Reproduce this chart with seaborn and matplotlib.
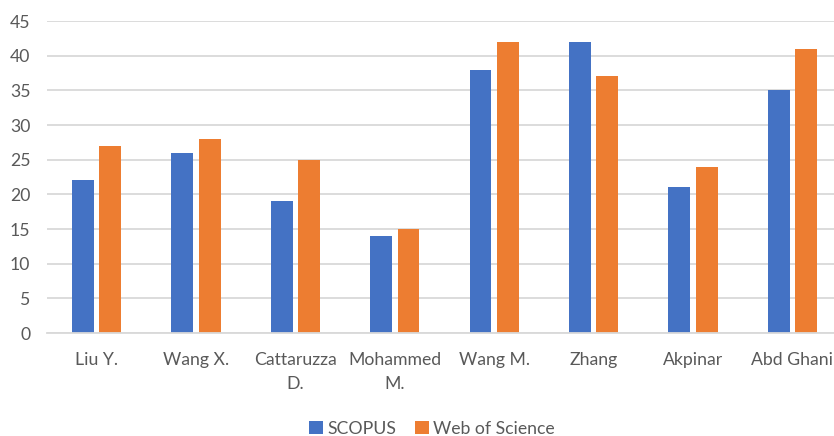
import numpy as np
import pandas as pd
import matplotlib.pyplot as plt
import seaborn as sns

# Data
authors = ["Liu Y.", "Wang X.", "Cattaruzza\nD.", "Mohammed\nM.",
           "Wang M.", "Zhang", "Akpinar", "Abd Ghani"]
scopus = [22, 26, 19, 14, 38, 42, 21, 35]
wos = [27, 28, 25, 15, 42, 37, 24, 41]
sources = ["SCOPUS", "Web of Science"]
yticks = list(range(0, 50, 5))

# Set-up
sns.set_theme(style="white")
plt.rcParams["font.family"] = ["Lato", "DejaVu Sans"]
TEXT = "#595959"
GRID = "#D9D9D9"

df = pd.DataFrame({
    "author": authors * 2,
    "count": scopus + wos,
    "source": [sources[0]] * len(authors) + [sources[1]] * len(authors),
})

fig = plt.figure(figsize=(8.34, 4.36), dpi=100)
ax = fig.add_axes([47 / 834, 103 / 436, 795 / 834, 312 / 436])

sns.barplot(df, x="author", y="count", hue="source",
            palette=["#4472C4", "#ED7D31"], saturation=1,
            width=0.55, gap=0.2, linewidth=0, ax=ax, legend=True)

ax.set_ylim(0, 45)
ax.set_xlim(-0.5, 7.5)
ax.set_yticks(yticks)
ax.yaxis.grid(True, color=GRID, linewidth=1.3)
ax.set_axisbelow(True)
for side in ["top", "right", "left"]:
    ax.spines[side].set_visible(False)
ax.spines["bottom"].set_color(GRID)
ax.spines["bottom"].set_linewidth(1.3)
ax.set(xlabel="", ylabel="")
ax.tick_params(axis="both", length=0, colors=TEXT, labelsize=12.7)
ax.tick_params(axis="y", pad=12)
ax.tick_params(axis="x", pad=14)
for lbl in ax.get_xticklabels():
    lbl.set_linespacing(1.6)

# Legend at the bottom
handles, labels = ax.get_legend_handles_labels()
ax.get_legend().remove()
fig.legend(handles, labels, loc="center", bbox_to_anchor=(432 / 834, 1 - 429 / 436),
           ncol=2, frameon=False, fontsize=12.7, labelcolor=TEXT,
           handlelength=0.75, handleheight=0.75, handletextpad=0.25,
           columnspacing=1.1)

fig.savefig("out.png", dpi=100)
